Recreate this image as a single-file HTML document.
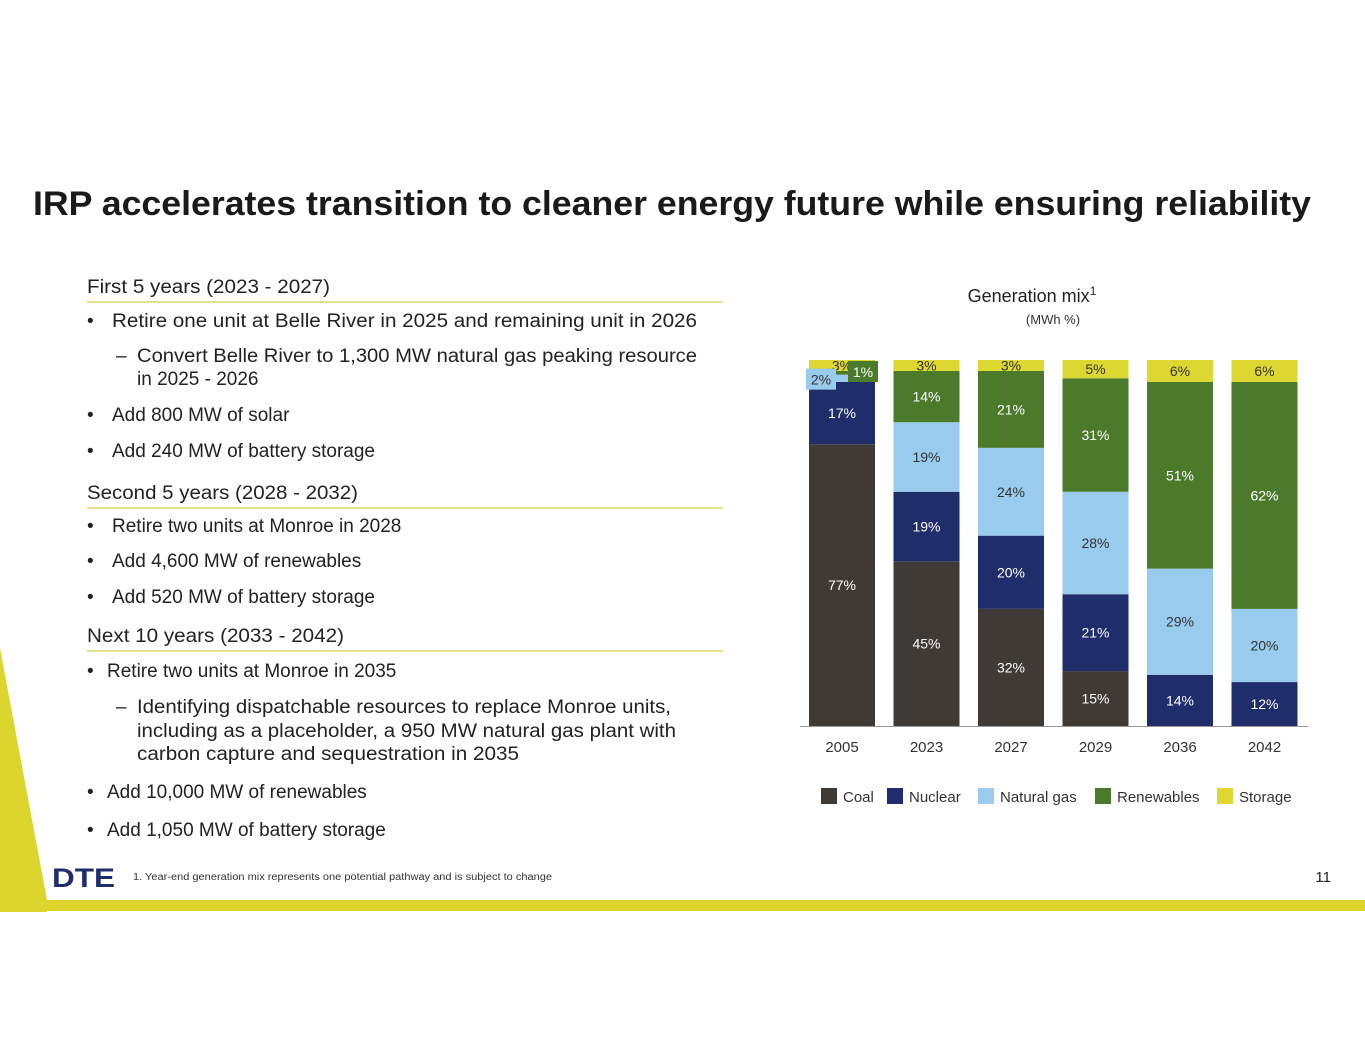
<!DOCTYPE html>
<html><head><meta charset="utf-8"><style>
html,body{margin:0;padding:0;background:#fff;}
svg{display:block;font-family:"Liberation Sans",sans-serif;}
</style></head><body>
<svg id="s" width="1365" height="1055" viewBox="0 0 1365 1055">
<polygon points="0,648 0,912 47,912 47,900" fill="#dcd52e"/>
<rect x="0" y="900" width="1365" height="11" fill="#dcd52e"/>
<text x="33" y="215" font-size="34" font-weight="bold" fill="#1a1a1a" textLength="1278" lengthAdjust="spacingAndGlyphs">IRP accelerates transition to cleaner energy future while ensuring reliability</text>

<g fill="#222" font-size="19">
<text x="87" y="293" textLength="243" lengthAdjust="spacingAndGlyphs">First 5 years (2023 - 2027)</text>
<line x1="87" y1="302" x2="723" y2="302" stroke="#dcd86a" stroke-width="1.5"/>
<text x="87" y="327">•</text><text x="112" y="327" textLength="585" lengthAdjust="spacingAndGlyphs">Retire one unit at Belle River in 2025 and remaining unit in 2026</text>
<text x="116" y="362">–</text><text x="137" y="362" textLength="560" lengthAdjust="spacingAndGlyphs">Convert Belle River to 1,300 MW natural gas peaking resource</text>
<text x="137" y="385">in 2025 - 2026</text>
<text x="87" y="421">•</text><text x="112" y="421">Add 800 MW of solar</text>
<text x="87" y="457">•</text><text x="112" y="457">Add 240 MW of battery storage</text>
<text x="87" y="499" textLength="271" lengthAdjust="spacingAndGlyphs">Second 5 years (2028 - 2032)</text>
<line x1="87" y1="508" x2="723" y2="508" stroke="#dcd86a" stroke-width="1.5"/>
<text x="87" y="532">•</text><text x="112" y="532">Retire two units at Monroe in 2028</text>
<text x="87" y="567">•</text><text x="112" y="567">Add 4,600 MW of renewables</text>
<text x="87" y="603">•</text><text x="112" y="603">Add 520 MW of battery storage</text>
<text x="87" y="642" textLength="257" lengthAdjust="spacingAndGlyphs">Next 10 years (2033 - 2042)</text>
<line x1="87" y1="651" x2="723" y2="651" stroke="#dcd86a" stroke-width="1.5"/>
<text x="87" y="677">•</text><text x="107" y="677">Retire two units at Monroe in 2035</text>
<text x="116" y="713">–</text><text x="137" y="713" textLength="534" lengthAdjust="spacingAndGlyphs">Identifying dispatchable resources to replace Monroe units,</text>
<text x="137" y="737" textLength="539" lengthAdjust="spacingAndGlyphs">including as a placeholder, a 950 MW natural gas plant with</text>
<text x="137" y="760" textLength="382" lengthAdjust="spacingAndGlyphs">carbon capture and sequestration in 2035</text>
<text x="87" y="798">•</text><text x="107" y="798">Add 10,000 MW of renewables</text>
<text x="87" y="836">•</text><text x="107" y="836">Add 1,050 MW of battery storage</text>
</g>

<text x="52" y="887" font-size="27" font-weight="bold" fill="#1f2d6b" textLength="63" lengthAdjust="spacingAndGlyphs">DTE</text>
<text x="133" y="880" font-size="10" fill="#333" textLength="419" lengthAdjust="spacingAndGlyphs">1.   Year-end generation mix represents one potential pathway and is subject to change</text>
<text x="1331" y="882" font-size="15" fill="#222" text-anchor="end">11</text>

<text x="1032" y="302" font-size="18" fill="#222" text-anchor="middle">Generation mix<tspan font-size="12" dy="-7">1</tspan></text>
<text x="1053" y="324" font-size="13" fill="#333" text-anchor="middle">(MWh %)</text>
<g id="chart"></g>
</svg>
<script>
const years = ["2005","2023","2027","2029","2036","2042"];
const seriesNames = ["Coal","Nuclear","Natural gas","Renewables","Storage"];
const coal = [77,45,32,15,0,0];
const nuclear = [17,19,20,21,14,12];
const naturalGas = [2,19,24,28,29,20];
const renewables = [1,14,21,31,51,62];
const storage = [3,3,3,5,6,6];

const series=[coal,nuclear,naturalGas,renewables,storage];
const colors=["#3f3a36","#1f2d6b","#99cbee","#4a7a2a","#dcd731"];
const textColors=["#fff","#fff","#333","#fff","#333"];
const NS="http://www.w3.org/2000/svg";
const g=document.getElementById('chart');
const base=726, top0=360, x0=809, step=84.5, bw=66;
const yScale=v=>(base-top0)*v/100;
const xPos=i=>x0+i*step;
function mk(t,a){const e=document.createElementNS(NS,t);for(const k in a)e.setAttribute(k,a[k]);g.appendChild(e);return e;}
const overlays=[];
years.forEach((yr,i)=>{
  let cum=0;
  series.forEach((s,j)=>{
    const v=s[i]; if(v<=0)return;
    const y1=base-yScale(cum+v), h=yScale(v);
    const r=mk('rect',{x:xPos(i),y:y1,width:bw,height:h,fill:colors[j]});
    
    
    cum+=v;
    let lx=xPos(i)+bw/2, ly=y1+h/2+5;
    if(h<16 && j===2){ overlays.push({bx:xPos(i)-3,by:y1-6,j:j,v:v,yr:yr}); return; }
    if(h<16 && j===3){ overlays.push({bx:xPos(i)+39,by:y1-10,j:j,v:v,yr:yr}); return; }
    const t=mk('text',{x:lx,y:ly,'font-size':14,fill:textColors[j],'text-anchor':'middle'});
    t.textContent=v+'%';
    
    
  });
  const t=mk('text',{x:xPos(i)+bw/2,y:752,'font-size':15,fill:'#333','text-anchor':'middle'});
  t.textContent=yr;
  
  
});
overlays.forEach(o=>{
  const b=mk('rect',{x:o.bx,y:o.by,width:30,height:21,fill:colors[o.j]});
  
  
  const t=mk('text',{x:o.bx+15,y:o.by+16,'font-size':14,fill:textColors[o.j],'text-anchor':'middle'});
  t.textContent=o.v+'%';
  
  
});
const ax=mk('line',{x1:800,y1:base+0.5,x2:1308,y2:base+0.5,stroke:'#999','stroke-width':1});


const lx=[821,887,978,1095,1217];
seriesNames.forEach((n,j)=>{
  const r=mk('rect',{x:lx[j],y:788,width:16,height:16,fill:colors[j]});
  
  
  const t=mk('text',{x:lx[j]+22,y:802,'font-size':15,fill:'#333'});
  t.textContent=n;
  
  
});
</script>
</body></html>
